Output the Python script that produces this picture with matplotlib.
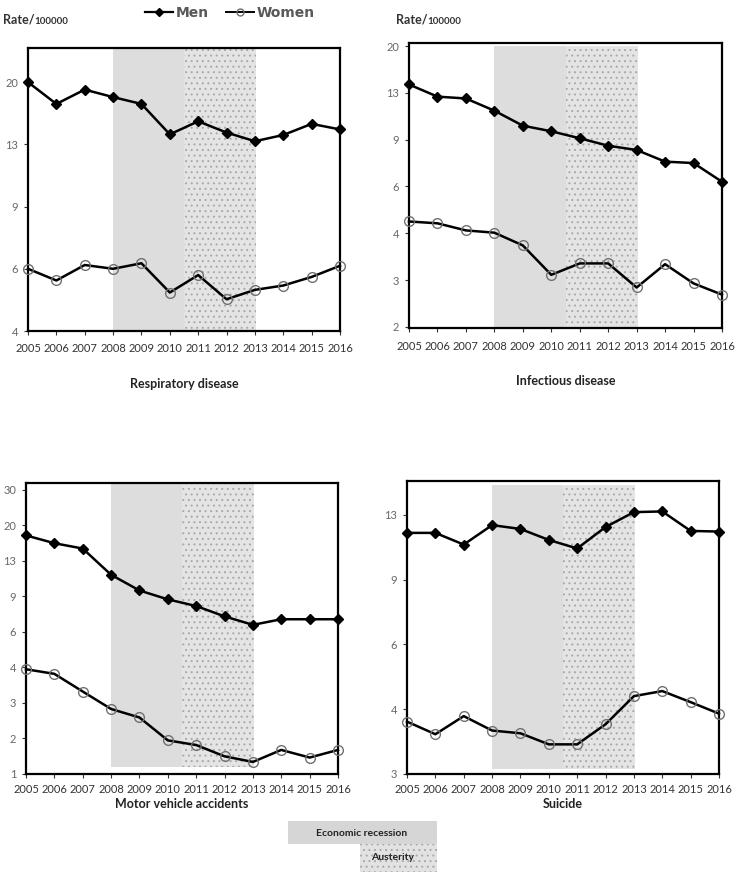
import numpy as np
import matplotlib
matplotlib.use("Agg")
import matplotlib.pyplot as plt
from matplotlib.patches import Rectangle
from matplotlib.lines import Line2D
from matplotlib.ticker import NullLocator

plt.rcParams['font.family'] = ['Lato', 'DejaVu Sans']
plt.rcParams['hatch.linewidth'] = 0.7

# data (rate per 100000)
years = list(range(2005, 2017))

resp_men = [20.25, 17.57, 19.29, 18.37, 17.57, 14.41, 15.69, 14.58, 13.78, 14.35, 15.43, 14.88]
resp_women = [6.00, 5.56, 6.15, 6.00, 6.22, 5.14, 5.76, 4.92, 5.23, 5.38, 5.69, 6.12]

inf_men = [14.52, 13.07, 12.86, 11.57, 10.16, 9.68, 9.11, 8.54, 8.23, 7.44, 7.35, 6.25]
inf_women = [4.43, 4.36, 4.10, 4.02, 3.60, 2.79, 3.08, 3.08, 2.50, 3.06, 2.59, 2.35]

mva_men = [18.08, 16.54, 15.56, 11.53, 9.64, 8.71, 8.07, 7.17, 6.51, 6.94, 6.94, 6.94]
mva_women = [3.92, 3.72, 3.04, 2.49, 2.26, 1.74, 1.65, 1.45, 1.36, 1.56, 1.43, 1.56]

sui_men = [12.05, 12.05, 11.20, 12.65, 12.35, 11.53, 10.93, 12.50, 13.72, 13.78, 12.20, 12.15]
sui_women = [3.70, 3.42, 3.83, 3.50, 3.44, 3.21, 3.21, 3.64, 4.34, 4.48, 4.18, 3.89]

# axis ticks sit on a x1.5 log grid, labels as printed
tick_vals = [4 * 1.5 ** k for k in range(-3, 6)]
tick_labels = ['1', '2', '3', '4', '6', '9', '13', '20', '30']

recession = (2008, 2010.5)
austerity = (2010.5, 2013.05)

panels = [
    # title, men, women, rect (px), ylim, shade (lo, hi), first/last tick index, x tick pad, labelpad
    ("Respiratory disease", resp_men, resp_women, (28, 48, 340, 331), (4.0, 25.3), (4.0, 25.3), (3, 7), 6, 17),
    ("Infectious disease", inf_men, inf_women, (409, 43, 722, 328), (1.76, 20.8), (1.76, 20.25), (1, 7), 6, 17),
    ("Motor vehicle accidents", mva_men, mva_women, (26, 483, 338, 774), (1.185, 32.9), (1.28, 32.9), (0, 8), 4, 2),
    ("Suicide", sui_men, sui_women, (407, 481, 719, 774), (2.667, 16.67), (2.75, 16.27), (2, 6), 4, 2),
]

W, H = 737, 874
fig = plt.figure(figsize=(W / 100, H / 100), dpi=100)

for title, men, women, (x0, y0, x1, y1), ylim, shade, (t0, t1), xpad, pad in panels:
    ax = fig.add_axes([x0 / W, 1 - y1 / H, (x1 - x0) / W, (y1 - y0) / H])
    ax.set_yscale('log')
    ax.fill_between(recession, shade[0], shade[1], facecolor='#dddddd', lw=0, zorder=0)
    ax.fill_between(austerity, shade[0], shade[1], facecolor='#e4e4e4', edgecolor='#a8a8a8',
                    hatch='...', lw=0, zorder=0)
    ax.plot(years, men, color='black', lw=1.8, marker='D', ms=5, mfc='black', mec='black',
            clip_on=False, zorder=3)
    ax.plot(years, women, color='black', lw=1.8, marker='o', ms=7, mfc='none', mec='#707070',
            mew=1.0, clip_on=False, zorder=3)
    ax.set_xlim(2005, 2016)
    ax.set_ylim(*ylim)
    ax.set_yticks(tick_vals[t0:t1 + 1])
    ax.set_yticklabels(tick_labels[t0:t1 + 1])
    ax.yaxis.set_minor_locator(NullLocator())
    ax.set_xticks(years)
    ax.set_xticklabels([str(y) for y in years])
    ax.tick_params(axis='y', labelsize=8, colors='#333333', labelcolor='#666666', length=3, width=0.8, pad=4)
    ax.tick_params(axis='x', labelsize=8, colors='#333333', labelcolor='#333333', length=3, width=0.8, pad=xpad)
    for s in ax.spines.values():
        s.set_linewidth(1.6)
        s.set_color('black')
    ax.set_xlabel(title, fontsize=9, fontweight='bold', color='#222222', labelpad=pad)

# Rate/100000 labels
for x in (3, 396):
    t = fig.text(x / W, 1 - 24 / H, "Rate/", fontsize=9, fontweight='bold', color='#333333')
    plt.annotate("100000", xy=(1, 0), xycoords=t, fontsize=7, fontweight='bold',
                 color='#333333', va='bottom')

# top legend
handles = [
    Line2D([], [], color='black', lw=1.6, marker='D', ms=4, mfc='black'),
    Line2D([], [], color='black', lw=1.4, marker='o', ms=5, mfc='none', mec='#707070'),
]
leg = fig.legend(handles, ['Men', 'Women'], loc='center', bbox_to_anchor=(0.312, 1 - 13 / H),
                 ncol=2, frameon=False, handlelength=2.0, columnspacing=1.2, handletextpad=0.2,
                 prop={'family': 'DejaVu Sans', 'weight': 'bold', 'size': 10})
for txt in leg.get_texts():
    txt.set_color('#595959')

# bottom legend for shaded periods
fig.add_artist(Rectangle((288 / W, 1 - 844 / H), (437 - 288) / W, 23 / H, transform=fig.transFigure,
                         facecolor='#d6d6d6', lw=0))
fig.add_artist(Rectangle((360 / W, 1 - 872 / H), (437 - 360) / W, 28 / H, transform=fig.transFigure,
                         facecolor='#e2e2e2', edgecolor='#a8a8a8', hatch='...', lw=0))
fig.text(362 / W, 1 - 834 / H, "Economic recession", ha='center', va='center', fontsize=7.5,
         fontweight='bold', color='#222222')
fig.text(393 / W, 1 - 858 / H, "Austerity", ha='center', va='center', fontsize=7.5,
         fontweight='bold', color='#222222')

fig.savefig("out.png", dpi=100)
